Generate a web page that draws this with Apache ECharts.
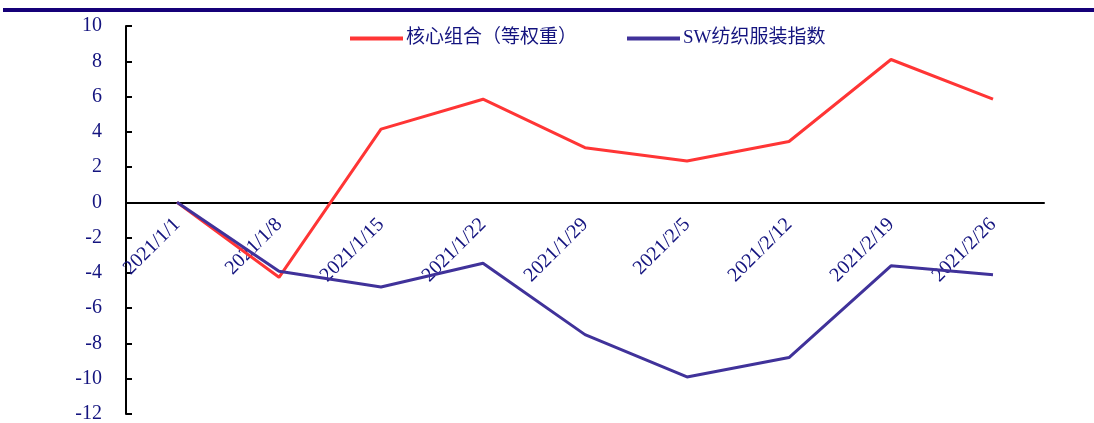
<!DOCTYPE html>
<html>
<head>
<meta charset="utf-8">
<script src="https://cdn.jsdelivr.net/npm/echarts@6/dist/echarts.min.js"></script>
<style>
  html, body { margin: 0; padding: 0; background: #fff; }
  #chart { width: 1094px; height: 423px; }
</style>
</head>
<body>
<div id="chart"></div>
<script>
// Weekly cumulative return (%) of the core portfolio vs. the SW textile & apparel index
const dates = ['2021/1/1', '2021/1/8', '2021/1/15', '2021/1/22', '2021/1/29',
               '2021/2/5', '2021/2/12', '2021/2/19', '2021/2/26'];
const corePortfolio = [0, -4.25, 4.15, 5.85, 3.1, 2.35, 3.45, 8.1, 5.85];
const swTextileIndex = [0, -3.9, -4.8, -3.45, -7.5, -9.9, -8.8, -3.6, -4.1];
const seriesNames = ['核心组合（等权重）', 'SW纺织服装指数'];
const yTicks = { min: -12, max: 10, step: 2 };

const navy = '#14147f';
const serif = '"Liberation Serif", "Times New Roman", serif';
const legendFont = '"Liberation Serif", "Noto Sans CJK SC", serif';

// plot area in pixels
const gridTop = 26, gridBottom = 9, chartH = 423;
const plotH = chartH - gridTop - gridBottom;
// move the category axis (line, ticks, labels) up to the zero value
const zeroShift = plotH * (0 - yTicks.min) / (yTicks.max - yTicks.min);

const legendCommon = {
  top: 24,
  itemWidth: 53,
  itemHeight: 4,
  icon: 'rect',
  textStyle: { color: navy, fontSize: 19, fontFamily: legendFont, padding: [0, 0, 0, -2] }
};

const chart = echarts.init(document.getElementById('chart'));
chart.setOption({
  animation: false,
  backgroundColor: '#fff',
  graphic: [{
    type: 'rect',
    shape: { x: 3, y: 8, width: 1091, height: 4 },
    style: { fill: '#150078' },
    silent: true
  }],
  legend: [
    Object.assign({ left: 345, data: [seriesNames[0]] }, legendCommon),
    Object.assign({ left: 622, data: [seriesNames[1]] }, legendCommon)
  ],
  grid: { left: 126, right: 50, top: gridTop, bottom: gridBottom, containLabel: false, outerBoundsMode: 'none' },
  xAxis: {
    type: 'category',
    data: dates,
    boundaryGap: true,
    offset: -zeroShift,
    axisLine: { onZero: false, lineStyle: { color: '#000', width: 2 } },
    axisTick: { inside: true, length: 6, lineStyle: { color: '#000', width: 2 }, alignWithLabel: false },
    axisLabel: {
      rotate: 45,
      color: navy,
      fontSize: 20,
      fontFamily: serif,
      margin: 19,
      interval: 0
    },
    splitLine: { show: false }
  },
  yAxis: {
    type: 'value',
    min: yTicks.min,
    max: yTicks.max,
    interval: yTicks.step,
    axisLine: { show: true, onZero: false, lineStyle: { color: '#000', width: 2 } },
    axisTick: { show: true, inside: true, length: 6, lineStyle: { color: '#000', width: 2 } },
    axisLabel: { color: navy, fontSize: 20, fontFamily: serif, margin: 24 },
    splitLine: { show: false }
  },
  series: [
    {
      name: seriesNames[0],
      type: 'line',
      data: corePortfolio,
      symbol: 'none',
      itemStyle: { color: '#ff3535' },
      lineStyle: { color: '#ff3535', width: 3 },
      z: 2
    },
    {
      name: seriesNames[1],
      type: 'line',
      data: swTextileIndex,
      symbol: 'none',
      itemStyle: { color: '#40329a' },
      lineStyle: { color: '#40329a', width: 3 },
      z: 3
    }
  ]
});
</script>
</body>
</html>
